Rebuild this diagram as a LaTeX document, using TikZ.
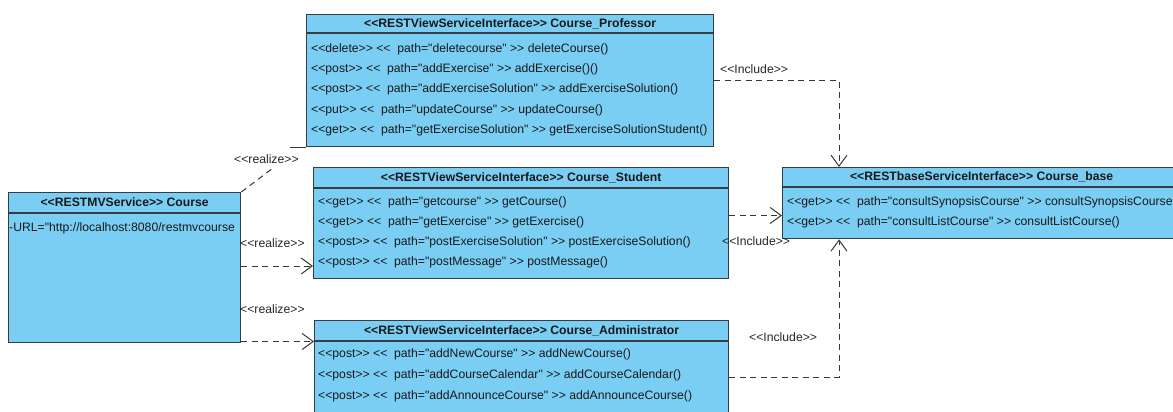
\documentclass[tikz,border=0pt]{standalone}
\usepackage{fontspec}
\newfontfamily\umlfont{Liberation Sans}
\usetikzlibrary{arrows.meta}
\definecolor{classfill}{RGB}{122,206,244}
\definecolor{classedge}{RGB}{55,60,68}
\definecolor{linkgray}{RGB}{55,55,55}
\begin{document}
\begin{tikzpicture}[x=1pt,y=-1pt,
  font=\umlfont\fontsize{12.2}{14}\selectfont,
  cls/.style={draw=classedge, fill=classfill, line width=1.3pt, anchor=north west, inner sep=0pt, rectangle},
  sep/.style={draw=classedge, line width=1.3pt},
  head/.style={font=\umlfont\bfseries\fontsize{12.2}{14}\selectfont, inner sep=0pt, text=black!90},
  op/.style={anchor=west, inner sep=0pt, text=black!90},
  lbl/.style={anchor=west, inner sep=0pt, text=black!85},
  dep/.style={draw=linkgray, line width=1pt, dash pattern=on 6pt off 4.5pt,
    -{Straight Barb[length=11pt,width=16pt,line width=1pt]}}]
\useasboundingbox (0,0) rectangle (1173,412);
\clip (0,0) rectangle (1173,412);

% class boxes
\node[cls, minimum width=232pt, minimum height=150pt] (course) at (8,192) {};
\node[cls, minimum width=407pt, minimum height=132pt] (prof) at (306,14) {};
\node[cls, minimum width=415pt, minimum height=111pt] (stu) at (313,167) {};
\node[cls, minimum width=414pt, minimum height=110pt] (adm) at (314,320) {};
\node[cls, minimum width=398pt, minimum height=71pt] (base) at (782,167) {};

% compartment separators
\draw[sep] ([yshift=-21pt]course.north west) -- ([yshift=-21pt]course.north east);
\draw[sep] ([yshift=-19pt]prof.north west) -- ([yshift=-19pt]prof.north east);
\draw[sep] ([yshift=-21pt]stu.north west) -- ([yshift=-21pt]stu.north east);
\draw[sep] ([yshift=-21pt]adm.north west) -- ([yshift=-21pt]adm.north east);
\draw[sep] ([yshift=-20pt]base.north west) -- ([yshift=-20pt]base.north east);

% headers
\node[head] (courseh) at ([yshift=-10.5pt]course.north) {<<RESTMVService>> Course};
\node[head] (profh) at ([yshift=-9.5pt]prof.north) {<<RESTViewServiceInterface>> Course\_Professor};
\node[head] (stuh) at ([yshift=-10.5pt]stu.north) {<<RESTViewServiceInterface>> Course\_Student};
\node[head] (admh) at ([yshift=-10.5pt]adm.north) {<<RESTViewServiceInterface>> Course\_Administrator};
\node[head] (baseh) at ([yshift=-10pt]base.north) {<<RESTbaseServiceInterface>> Course\_base};

% attributes and operations
\node[op] (c1) at (9,228) {-URL="http://localhost:8080/restmvcourse};

\node[op] (p1) at (311,49) {<<delete>> <<\ \ path="deletecourse" >> deleteCourse()};
\node[op] (p2) at (311,69.3) {<<post>> <<\ \ path="addExercise" >> addExercise()()};
\node[op] (p3) at (311,89.6) {<<post>> <<\ \ path="addExerciseSolution" >> addExerciseSolution()};
\node[op] (p4) at (311,109.9) {<<put>> <<\ \ path="updateCourse" >> updateCourse()};
\node[op] (p5) at (311,130.2) {<<get>> <<\ \ path="getExerciseSolution" >> getExerciseSolutionStudent()};

\node[op] (s1) at (318,202) {<<get>> <<\ \ path="getcourse" >> getCourse()};
\node[op] (s2) at (318,222.2) {<<get>> <<\ \ path="getExercise" >> getExercise()};
\node[op] (s3) at (318,242.4) {<<post>> <<\ \ path="postExerciseSolution" >> postExerciseSolution()};
\node[op] (s4) at (318,262.6) {<<post>> <<\ \ path="postMessage" >> postMessage()};

\node[op] (a1) at (318,354) {<<post>> <<\ \ path="addNewCourse" >> addNewCourse()};
\node[op] (a2) at (318,375) {<<post>> <<\ \ path="addCourseCalendar" >> addCourseCalendar()};
\node[op] (a3) at (318,396) {<<post>> <<\ \ path="addAnnounceCourse" >> addAnnounceCourse()};

\node[op] (b1) at (787,202) {<<get>> <<\ \ path="consultSynopsisCourse" >> consultSynopsisCourse};
\node[op] (b2) at (787,222) {<<get>> <<\ \ path="consultListCourse" >> consultListCourse()};

% connectors
\coordinate (bx) at (839,0);
\coordinate (rz) at (273,168);
\draw[dep] (prof.east) -| (bx |- base.north);
\draw[dep] (stu.east |- 0,215.5) -- (base.west |- 0,215.5);
\draw[dep] (adm.east |- 0,377) -| (bx |- base.south);
\draw[dep] (course.east |- 0,266) -- (stu.west |- 0,266);
\draw[dep] (course.east |- 0,341.5) -- (adm.west |- 0,341.5);
\draw[draw=linkgray, line width=1pt, dash pattern=on 6pt off 4.5pt] (course.north east) -- (rz);
\draw[draw=linkgray, line width=1pt] (prof.south west) -- ++(-16,0);

% connector labels
\node[lbl] (l1) at (720,69) {<<Include>>};
\node[lbl] (l2) at (722,241) {<<Include>>};
\node[lbl] (l3) at (749,337) {<<Include>>};
\node[lbl] (l4) at (240,243) {<<realize>>};
\node[lbl] (l5) at (240,309) {<<realize>>};
\node[lbl] (l6) at (234,159) {<<realize>>};
\end{tikzpicture}
\end{document}
